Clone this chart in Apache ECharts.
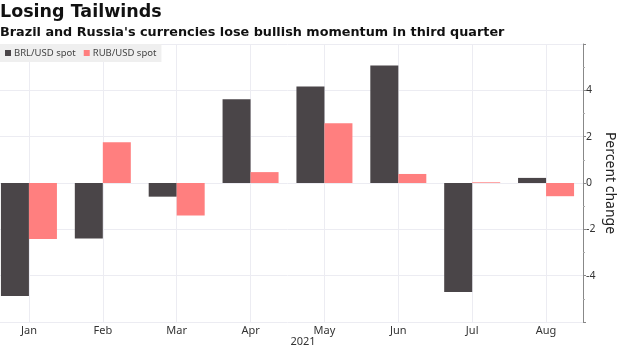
<!DOCTYPE html>
<html>
<head>
<meta charset="utf-8">
<script src="https://cdn.jsdelivr.net/npm/echarts@6/dist/echarts.min.js"></script>
<style>
  html, body { margin: 0; padding: 0; background: #fff; overflow: hidden; }
  /* the plot in the reference is cut off on the left, so the canvas starts 8px off screen */
  #chart { width: 628px; height: 351px; margin-left: -8px; }
</style>
</head>
<body>
<div id="chart"></div>
<script>
const months = ['Jan', 'Feb', 'Mar', 'Apr', 'May', 'Jun', 'Jul', 'Aug'];
const brlUsd = [-4.88, -2.4, -0.59, 3.61, 4.17, 5.07, -4.7, 0.22];
const rubUsd = [-2.42, 1.76, -1.4, 0.47, 2.58, 0.39, 0.03, -0.57];
const yTicks = [-4, -2, 0, 2, 4];

const X0 = 8; // shift of the canvas

var myChart = echarts.init(document.getElementById('chart'));

option = {
    animation: false,
    backgroundColor: '#fff',
    title: [{
        text: 'Losing Tailwinds',
        left: X0,
        top: 3,
        padding: 0,
        textStyle: { fontFamily: 'DejaVu Sans', fontSize: 17.5, fontWeight: 'bold', color: '#111' }
    }, {
        text: "Brazil and Russia's currencies lose bullish momentum in third quarter",
        left: X0,
        top: 26,
        padding: 0,
        textStyle: { fontFamily: 'DejaVu Sans', fontSize: 12.8, fontWeight: 'bold', color: '#111' }
    }, {
        text: '2021',
        left: X0 + 303,
        top: 336,
        padding: 0,
        textAlign: 'center',
        textStyle: { fontFamily: 'Noto Sans', fontSize: 11, fontWeight: 'normal', color: '#333' }
    }],
    legend: {
        left: X0,
        top: 44,
        padding: [4, 5, 4, 5],
        itemGap: 8,
        itemWidth: 6,
        itemHeight: 6,
        icon: 'rect',
        backgroundColor: '#efefef',
        textStyle: { fontFamily: 'Noto Sans', fontSize: 9.5, color: '#444', padding: [0, 0, 0, -2] },
        data: ['BRL/USD spot', 'RUB/USD spot']
    },
    grid: {
        left: 0,
        right: 37,
        top: 44,
        bottom: 29,
        outerBoundsMode: 'none',
        containLabel: false
    },
    xAxis: {
        type: 'category',
        data: months,
        axisLine: { show: false },
        axisTick: { show: false },
        axisLabel: { margin: 3, fontFamily: 'Noto Sans', fontSize: 11, color: '#333' },
        splitLine: { show: false }
    },
    yAxis: {
        type: 'value',
        position: 'right',
        min: -6,
        max: 6,
        interval: 2,
        name: 'Percent change',
        nameLocation: 'middle',
        nameRotate: -90,
        nameGap: 20,
        nameMoveOverlap: false,
        nameTextStyle: { fontFamily: 'Noto Sans', fontSize: 14, color: '#222' },
        axisLine: { show: true, lineStyle: { color: '#888' } },
        axisTick: { show: true, inside: false, length: 3, lineStyle: { color: '#888' } },
        minorTick: { show: true, splitNumber: 2, length: 2, lineStyle: { color: '#aaa' } },
        axisLabel: {
            margin: 3,
            fontFamily: 'Noto Sans',
            fontSize: 10.5,
            color: '#333',
            formatter: function (v) {
                return yTicks.indexOf(v) >= 0 ? String(v) : '';
            }
        },
        splitLine: { show: true, lineStyle: { color: '#ececf2', width: 1 } }
    },
    series: [{
        // vertical grid lines sit on the month centres, under the bars
        name: 'grid',
        type: 'line',
        data: [],
        z: 1,
        markLine: {
            silent: true,
            z: 1,
            symbol: 'none',
            label: { show: false },
            lineStyle: { color: '#ececf2', width: 1, type: 'solid' },
            data: months.map(function (m) { return { xAxis: m }; })
        }
    }, {
        name: 'BRL/USD spot',
        type: 'bar',
        data: brlUsd,
        barWidth: 28,
        barGap: '0%',
        z: 3,
        itemStyle: { color: '#4a4548' }
    }, {
        name: 'RUB/USD spot',
        type: 'bar',
        data: rubUsd,
        barWidth: 28,
        barGap: '0%',
        z: 3,
        itemStyle: { color: '#ff7f7f' }
    }]
};
myChart.setOption(option);
</script>
</body>
</html>
